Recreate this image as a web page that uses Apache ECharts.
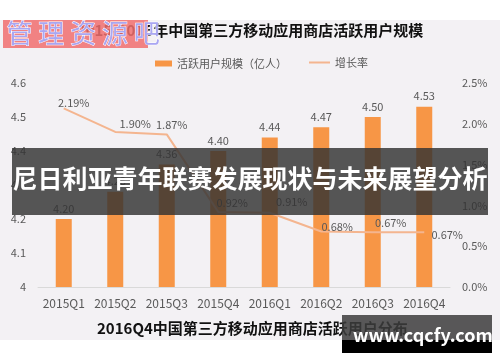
<!DOCTYPE html>
<html><head><meta charset="utf-8">
<script src="https://cdn.jsdelivr.net/npm/echarts@6/dist/echarts.min.js"></script>
<style>html,body{margin:0;padding:0;background:#fff;}#c{width:500px;height:362px;}</style>
</head><body><div id="c"></div>
<script>
const categories = ['2015Q1','2015Q2','2015Q3','2015Q4','2016Q1','2016Q2','2016Q3','2016Q4'];
const activeUsers = [4.20, 4.28, 4.36, 4.40, 4.44, 4.47, 4.50, 4.53];
const growthRate = [2.19, 1.90, 1.87, 0.92, 0.91, 0.68, 0.67, 0.67];
const leftTicks = {min: 4, max: 4.6, interval: 0.1};
const rightTicks = {min: 0, max: 2.5, interval: 0.5};
const labelOffsets = [[10,5],[20,2],[5,1],[14,1],[22,0],[16,6],[18,1],[23,13]];

const font = '"Noto Sans CJK SC", "Noto Sans", sans-serif';
const chart = echarts.init(document.getElementById('c'), null, {renderer:'canvas'});
const pctLabel = p => p.value.toFixed(2)+'%';
chart.setOption({
  animation: false,
  textStyle: {fontFamily: font},
  graphic: [
    {type:'rect', z:-10, shape:{x:0,y:20,width:500,height:320}, style:{fill:'#f3f1f4'}},
    {type:'text', left:'center', top:23, style:{text:'2015-2016年中国第三方移动应用商店活跃用户规模', font:'bold 15px '+font, fill:'#111'}},
    {type:'text', left:97, top:321, style:{text:'2016Q4中国第三方移动应用商店活跃用户分布', font:'bold 15px '+font, fill:'#111'}},
    {type:'rect', z:50, shape:{x:3,y:20,width:145,height:28}, style:{fill:'rgba(240,110,110,0.85)'}},
    {type:'text', z:51, left:6, top:20, style:{text:'管 理 资 源 吧', font:'26px '+font, fill:'#a9a6f2', stroke:'#fff', lineWidth:1}},
    {type:'rect', z:50, shape:{x:12,y:148,width:476,height:67}, style:{fill:'rgba(50,50,50,0.82)'}},
    {type:'text', z:51, left:'center', top:166, style:{text:'尼日利亚青年联赛发展现状与未来展望分析', font:'bold 25px '+font, fill:'#fff'}},
    {type:'rect', z:50, shape:{x:342,y:315,width:150,height:26}, style:{fill:'rgba(60,60,60,0.85)'}},
    {type:'rect', z:50, shape:{x:342,y:340,width:150,height:13}, style:{fill:'#000'}},
    {type:'text', z:51, left:353, top:326, style:{text:'www.cqcfy.com', font:'bold 18px '+font, fill:'#fff'}}
  ],
  legend: [
    {top: 53, left: 150, itemWidth: 17, itemHeight: 6,
     textStyle: {color:'#595959', fontSize: 11, fontFamily: font},
     data: [{name:'活跃用户规模（亿人）', icon:'rect'}]},
    {top: 52, left: 303, itemWidth: 21, itemHeight: 8,
     textStyle: {color:'#595959', fontSize: 11, fontFamily: font},
     data: [{name:'增长率', itemStyle:{opacity:0}}]}
  ],
  grid: {left: 38, right: 50, top: 83, bottom: 75},
  xAxis: {
    type:'category', data: categories,
    axisTick:{show:false},
    axisLine:{lineStyle:{color:'#d9d9d9'}},
    axisLabel:{color:'#595959', fontSize:12, margin:10, interval:0, hideOverlap:false}
  },
  yAxis: [
    {type:'value', min:leftTicks.min, max:leftTicks.max, interval:leftTicks.interval,
     splitLine:{show:false}, axisLine:{show:false}, axisTick:{show:false},
     axisLabel:{color:'#595959', fontSize:11, margin:12, formatter: v => (Math.round(v*10)/10).toString()}},
    {type:'value', min:rightTicks.min, max:rightTicks.max, interval:rightTicks.interval,
     splitLine:{show:false}, axisLine:{show:false}, axisTick:{show:false},
     axisLabel:{color:'#595959', fontSize:11, margin:12, formatter: v => v.toFixed(1)+'%'}}
  ],
  series: [
    {name:'活跃用户规模（亿人）', type:'bar', data: activeUsers, barWidth:16,
     itemStyle:{color:'#f79646'},
     label:{show:true, position:'top', color:'#595959', fontSize:11, formatter: p => p.value.toFixed(2)}},
    {name:'增长率', type:'line', yAxisIndex:1, symbol:'circle', symbolSize:0.1, showSymbol:true, z:5,
     lineStyle:{color:'#f4b58f', width:2}, itemStyle:{color:'#f4b58f'},
     labelLayout: p => ({hideOverlap:false, dx: labelOffsets[p.dataIndex][0], dy: labelOffsets[p.dataIndex][1]}),
     data: growthRate,
     label:{show:true, position:'top', distance:5, color:'#595959', fontSize:11, formatter: pctLabel}}
  ]
});
</script></body></html>
